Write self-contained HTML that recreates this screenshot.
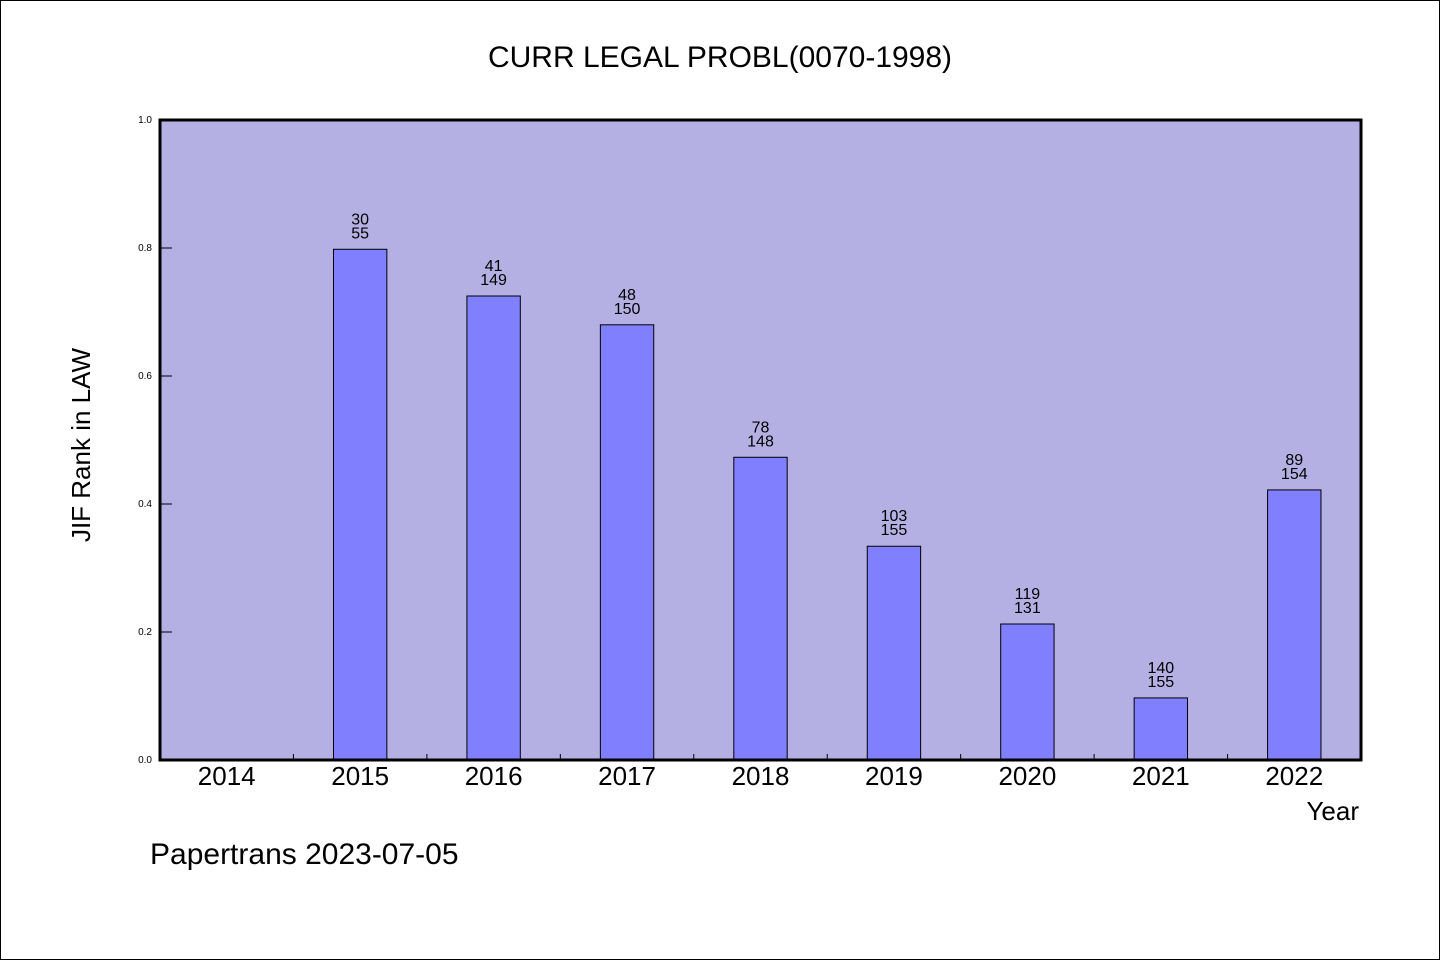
<!DOCTYPE html>
<html><head><meta charset="utf-8"><style>
html,body{margin:0;padding:0;background:#fff}
svg{display:block}
text{font-family:"WenQuanYi Zen Hei","Liberation Sans",sans-serif;fill:#000}
</style></head><body>
<svg id="chart" width="1440" height="960">
<rect x="0.5" y="0.5" width="1439" height="959" fill="#fff" stroke="#000"/>
<text x="720" y="67" text-anchor="middle" font-size="30">CURR LEGAL PROBL(0070-1998)</text>
<rect x="160" y="120" width="1201" height="640" fill="#b5b0e3"/>
<g id="bars"></g>
<g id="axes"></g>
<rect x="160" y="120" width="1201" height="640" fill="none" stroke="#000" stroke-width="3"/>
<text x="90" y="445" text-anchor="middle" font-size="26" transform="rotate(-90 90 445)">JIF Rank in LAW</text>
<text x="1359" y="820" text-anchor="end" font-size="26">Year</text>
<text x="150" y="864" font-size="30">Papertrans 2023-07-05</text>
</svg>
<script>
const years = ["2014","2015","2016","2017","2018","2019","2020","2021","2022"];
const values = [null,0.798,0.725,0.68,0.473,0.334,0.2125,0.097,0.422];
const ranks = [null,30,41,48,78,103,119,140,89];
const totals = [null,55,149,150,148,155,131,155,154];
const yTicks = ["0.0","0.2","0.4","0.6","0.8","1.0"];
const NS="http://www.w3.org/2000/svg";
const X0=160,X1=1361,Y0=760,Y1=120;
const step=(X1-X0)/years.length;
const xc=i=>X0+step*(i+0.5);
const y=v=>Y0-(v)*(Y0-Y1);
function mk(tag,attrs,parent){const e=document.createElementNS(NS,tag);for(const k in attrs)e.setAttribute(k,attrs[k]);parent.appendChild(e);return e;}
const bars=document.getElementById('bars'),axes=document.getElementById('axes');
const bw=step*0.4;
values.forEach((v,i)=>{
  if(v==null)return;
  const r=mk('rect',{x:xc(i)-bw/2,y:y(v),width:bw,height:Y0-y(v),fill:'#8080ff',stroke:'#000','stroke-width':1},bars);
  
  
  const t1=mk('text',{x:xc(i),y:y(v)-25,'text-anchor':'middle','font-size':16},bars);
  t1.textContent=ranks[i];
  
  
  const t2=mk('text',{x:xc(i),y:y(v)-11,'text-anchor':'middle','font-size':16},bars);
  t2.textContent=totals[i];
  
  
});
years.forEach((yr,i)=>{
  const t=mk('text',{x:xc(i),y:785,'text-anchor':'middle','font-size':26},axes);
  t.textContent=yr;
  
  
  if(i>0){
    const l=mk('line',{x1:X0+step*i,x2:X0+step*i,y1:Y0,y2:Y0-6,stroke:'#000'},axes);
    
    
  }
});
yTicks.forEach(lbl=>{
  const v=parseFloat(lbl);
  const l=mk('line',{x1:X0,x2:X0+12,y1:y(v),y2:y(v),stroke:'#000'},axes);
  
  
  const t=mk('text',{x:152,y:y(v)+3,'text-anchor':'end','font-size':10},axes);
  t.textContent=lbl;
  
  
});
</script>
</body></html>
